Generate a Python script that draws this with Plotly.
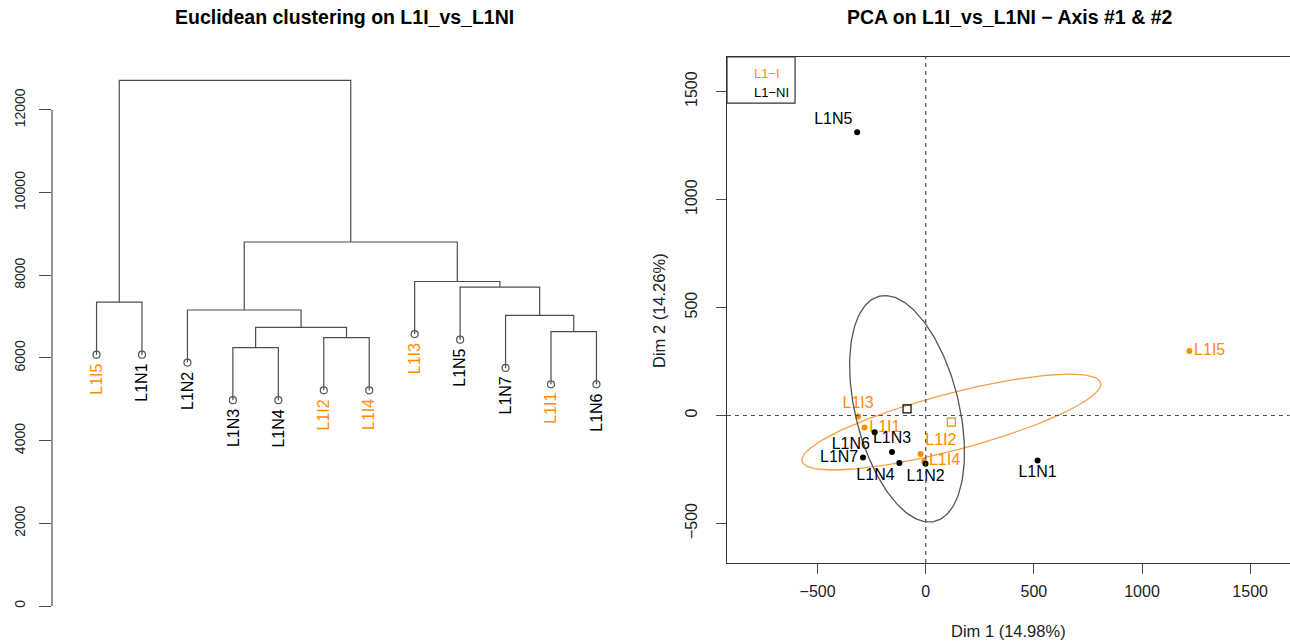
import numpy as np
import plotly.graph_objects as go

# ---------------- data ----------------
# Dendrogram (hclust-like merge table, heights)
leaf_order = ["L1I5", "L1N1", "L1N2", "L1N3", "L1N4", "L1I2", "L1I4",
              "L1I3", "L1N5", "L1N7", "L1I1", "L1N6"]
dend_merges = [("L1N3", "L1N4"), ("L1I2", "L1I4"), ("L1I1", "L1N6"),
               ("#1", "#2"), ("L1N7", "#3"), ("L1N2", "#4"),
               ("L1I5", "L1N1"), ("L1N5", "#5"), ("L1I3", "#8"),
               ("#6", "#9"), ("#7", "#10")]
dend_heights = [6250, 6490, 6635, 6740, 7030, 7160, 7350, 7715, 7850, 8805, 12715]
dend_ticks = [0, 2000, 4000, 6000, 8000, 10000, 12000]

# PCA coordinates
pca_labels_I = ["L1I1", "L1I2", "L1I3", "L1I4", "L1I5"]
pca_x_I = [-283, -24, -313, -7, 1219]
pca_y_I = [-56, -178, -5, -212, 299]
pca_labels_NI = ["L1N1", "L1N2", "L1N3", "L1N4", "L1N5", "L1N6", "L1N7"]
pca_x_NI = [517, -1, -156, -122, -317, -236, -290]
pca_y_NI = [-208, -224, -169, -220, 1311, -78, -195]
pca_pos_I = ["middle right", "top right", "top center", "middle right", "middle right"]
pca_pos_NI = ["bottom center", "bottom center", "top center", "bottom left",
              "top left", "bottom left", "middle left"]
pca_ticks = [-500, 0, 500, 1000, 1500]
group_names = ["L1\u2212I", "L1\u2212NI"]

ORANGE = "#FF8C00"
BLACK = "#000000"
DGRAY = "#4D4D4D"
FONT = "Liberation Sans, Arial, sans-serif"
W, H = 1290, 642


def px_x(p):
    return p / W


def px_y(p):
    return 1 - p / H


fig = go.Figure()

# ---------------- dendrogram ----------------
hang = 0.1 * max(dend_heights)
parent_h = {}
for k, (a, b) in enumerate(dend_merges):
    parent_h[a] = dend_heights[k]
    parent_h[b] = dend_heights[k]
merge_x = []


def node_xy(name):
    if name.startswith("#"):
        k = int(name[1:]) - 1
        return merge_x[k], dend_heights[k]
    return leaf_order.index(name) + 1, parent_h[name] - hang


lx, ly = [], []
for k, (a, b) in enumerate(dend_merges):
    xa, ya = node_xy(a)
    xb, yb = node_xy(b)
    h = dend_heights[k]
    lx += [xa, xa, xb, xb, None]
    ly += [ya, h, h, yb, None]
    merge_x.append((xa + xb) / 2)

fig.add_trace(go.Scatter(x=lx, y=ly, mode="lines", line=dict(color=DGRAY, width=1.2),
                         hoverinfo="skip", showlegend=False, xaxis="x", yaxis="y"))
leaf_x = [leaf_order.index(n) + 1 for n in leaf_order]
leaf_y = [parent_h[n] - hang for n in leaf_order]
fig.add_trace(go.Scatter(x=leaf_x, y=leaf_y, mode="markers",
                         marker=dict(symbol="circle-open", size=7, color="#555555",
                                     line=dict(width=1.2)),
                         showlegend=False, xaxis="x", yaxis="y", text=leaf_order,
                         hoverinfo="text"))

annotations = []
for n, xv, yv in zip(leaf_order, leaf_x, leaf_y):
    annotations.append(dict(x=xv, y=yv, xref="x", yref="y", text=n, showarrow=False,
                            textangle=-90, xanchor="center", yanchor="top", yshift=-7,
                            font=dict(family=FONT, size=16,
                                      color=ORANGE if n[2] == "I" else BLACK)))

# ---------------- PCA ----------------
chi = np.sqrt(5.991464547107979)  # 95% chi-square, 2 df
t = np.linspace(0, 2 * np.pi, 200)


def conf_ellipse(xs, ys):
    pts = np.column_stack([xs, ys]).astype(float)
    mu = pts.mean(axis=0)
    cov = np.cov(pts.T) / len(pts)
    vals, vecs = np.linalg.eigh(cov)
    circ = np.vstack([np.cos(t), np.sin(t)])
    e = vecs @ (np.sqrt(vals)[:, None] * circ) * chi
    return mu, e[0] + mu[0], e[1] + mu[1]


for xs, ys, labs, pos, col in [(pca_x_I, pca_y_I, pca_labels_I, pca_pos_I, ORANGE),
                               (pca_x_NI, pca_y_NI, pca_labels_NI, pca_pos_NI, BLACK)]:
    mu, ex, ey = conf_ellipse(xs, ys)
    ecol = "#F5A04A" if col == ORANGE else "#555555"
    fig.add_trace(go.Scatter(x=ex, y=ey, mode="lines", line=dict(color=ecol, width=1.3),
                             hoverinfo="skip", showlegend=False, xaxis="x2", yaxis="y2"))
    fig.add_trace(go.Scatter(x=[mu[0]], y=[mu[1]], mode="markers",
                             marker=dict(symbol="square-open", size=8, color=col,
                                         line=dict(width=1.2)),
                             showlegend=False, xaxis="x2", yaxis="y2"))
    fig.add_trace(go.Scatter(x=xs, y=ys, mode="markers+text", text=labs,
                             textposition=pos,
                             textfont=dict(family=FONT, size=16, color=col),
                             marker=dict(size=6, color=col),
                             showlegend=False, xaxis="x2", yaxis="y2"))

shapes = [
    # left partial axis line (R style: spans tick range only)
    dict(type="line", xref="x domain", yref="y", x0=0, x1=0, y0=dend_ticks[0],
         y1=dend_ticks[-1], line=dict(color=DGRAY, width=1.2)),
    # dashed zero lines
    dict(type="line", xref="x2", yref="y2 domain", x0=0, x1=0, y0=0, y1=1,
         line=dict(color=DGRAY, width=1.2, dash="4px,4px")),
    dict(type="line", xref="x2 domain", yref="y2", x0=0, x1=1, y0=0, y1=0,
         line=dict(color=DGRAY, width=1.2, dash="4px,4px")),
    # legend box
    dict(type="rect", xref="x2 domain", yref="y2 domain", x0=0, x1=0.121, y0=0.909, y1=1,
         line=dict(color="#333333", width=1.2), fillcolor="white"),
]

for i, (g, c) in enumerate(zip(group_names, [ORANGE, BLACK])):
    annotations.append(dict(x=0.044, y=1 - (16 + 19 * i) / 506, xref="x2 domain",
                            yref="y2 domain", text=g, showarrow=False, xanchor="left",
                            yanchor="middle", font=dict(family=FONT, size=13, color=c)))

# titles
annotations += [
    dict(x=px_x(345), y=px_y(17), xref="paper", yref="paper",
         text="<b>Euclidean clustering on L1I_vs_L1NI</b>", showarrow=False,
         xanchor="center", yanchor="middle", font=dict(family=FONT, size=19.5, color=BLACK)),
    dict(x=px_x(1009), y=px_y(17), xref="paper", yref="paper",
         text="<b>PCA on L1I_vs_L1NI \u2212 Axis #1 &amp; #2</b>", showarrow=False,
         xanchor="center", yanchor="middle", font=dict(family=FONT, size=19.5, color=BLACK)),
    dict(x=px_x(1008), y=px_y(631), xref="paper", yref="paper",
         text="Dim 1 (14.98%)", showarrow=False, xanchor="center", yanchor="middle",
         font=dict(family=FONT, size=16.5, color="#222222")),
    dict(x=px_x(659), y=px_y(311), xref="paper", yref="paper",
         text="Dim 2 (14.26%)", showarrow=False, textangle=-90, xanchor="center",
         yanchor="middle", font=dict(family=FONT, size=16.5, color="#222222")),
]

fig.update_layout(
    width=W, height=H, margin=dict(l=0, r=0, t=0, b=0),
    paper_bgcolor="white", plot_bgcolor="white",
    showlegend=False,
    font=dict(family=FONT, color="#222222"),
    xaxis=dict(domain=[px_x(52), px_x(641)], range=[0.02, 12.98], visible=False,
               anchor="y"),
    yaxis=dict(domain=[px_y(627), px_y(59.3)], range=[-508, 13225], tickvals=dend_ticks,
               tickformat="d",
               ticks="outside", ticklen=12, tickcolor=DGRAY, tickwidth=1.2,
               showline=False, showgrid=False, zeroline=False, tickangle=-90,
               tickfont=dict(family=FONT, size=14, color="#222222"),
               ticklabelstandoff=8, anchor="x"),
    xaxis2=dict(domain=[px_x(727), px_x(1289.5)], range=[-919, 1682], tickvals=pca_ticks,
                ticks="outside", ticklen=10, tickcolor=DGRAY, tickwidth=1.2,
                showline=True, linecolor="#333333", linewidth=1.2, mirror=True,
                showgrid=False, zeroline=False,
                tickfont=dict(family=FONT, size=16, color="#222222"),
                ticklabelstandoff=4, anchor="y2"),
    yaxis2=dict(domain=[px_y(563), px_y(57)], range=[-683, 1660], tickvals=pca_ticks,
                ticks="outside", ticklen=10, tickcolor=DGRAY, tickwidth=1.2,
                showline=True, linecolor="#333333", linewidth=1.2, mirror=True,
                showgrid=False, zeroline=False, tickangle=-90,
                tickfont=dict(family=FONT, size=16, color="#222222"),
                ticklabelstandoff=13, anchor="x2"),
    shapes=shapes,
    annotations=annotations,
)

fig.write_html("out.html", config={"displayModeBar": False},
               post_script="document.body.style.margin='0';"
                           "document.body.style.overflow='hidden';")
